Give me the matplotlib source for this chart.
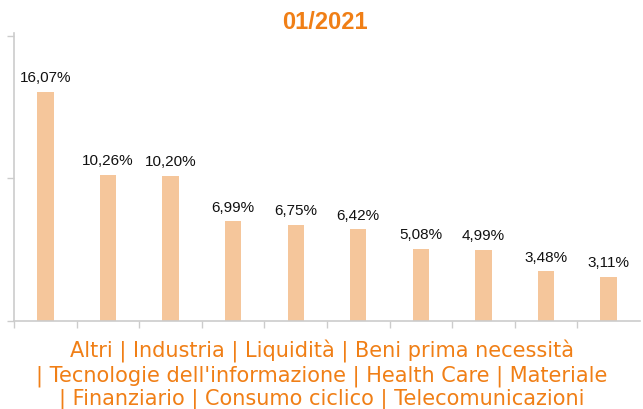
import matplotlib.pyplot as plt

categories = ['Altri', 'Industria', 'Liquidità', 'Beni prima necessità',
              "Tecnologie dell'informazione", 'Health Care', 'Materiale',
              'Finanziario', 'Consumo ciclico', 'Telecomunicazioni']
values = [16.07, 10.26, 10.20, 6.99, 6.75, 6.42, 5.08, 4.99, 3.48, 3.11]
title = '01/2021'

bar_color = '#F5C69B'
orange = '#F07F16'
grey = '#CCCCCC'

fig = plt.figure(figsize=(6.43, 4.10), dpi=100)
ax = fig.add_axes([0.022, 0.2146, 0.973, 0.7025])

x = list(range(len(values)))
ax.bar(x, values, width=0.26, color=bar_color, zorder=2)
for xi, v in zip(x, values):
    ax.text(xi, v + 0.55, f'{v:.2f}%'.replace('.', ','), ha='center', va='bottom',
            fontsize=11, family='Liberation Sans', color='#111111')

ax.set_xlim(-0.5, len(values) - 0.5)
ax.set_ylim(0, 20.2)
ax.set_yticks([0, 10, 20])
ax.set_yticklabels([])
ax.set_xticks([i - 0.5 for i in range(len(values))])
ax.set_xticklabels([])
ax.tick_params(axis='both', direction='out', length=5, width=1, color=grey)

for side in ['top', 'right']:
    ax.spines[side].set_visible(False)
for side in ['left', 'bottom']:
    ax.spines[side].set_color(grey)
    ax.spines[side].set_linewidth(1.2)

fig.text(0.505, 0.945, title, ha='center', va='center', fontsize=17,
         fontweight='bold', family='Liberation Sans', color=orange)

# category list under the chart, wrapped on three lines
lines = [' | '.join(categories[0:4]),
         '| ' + ' | '.join(categories[4:7]),
         '| ' + ' | '.join(categories[7:])]
for i, line in enumerate(lines):
    fig.text(0.5, 0.142 - i * 0.0585, line, ha='center', va='center',
             fontsize=15, family='DejaVu Sans', color=orange)

fig.savefig('out.png', dpi=100)
